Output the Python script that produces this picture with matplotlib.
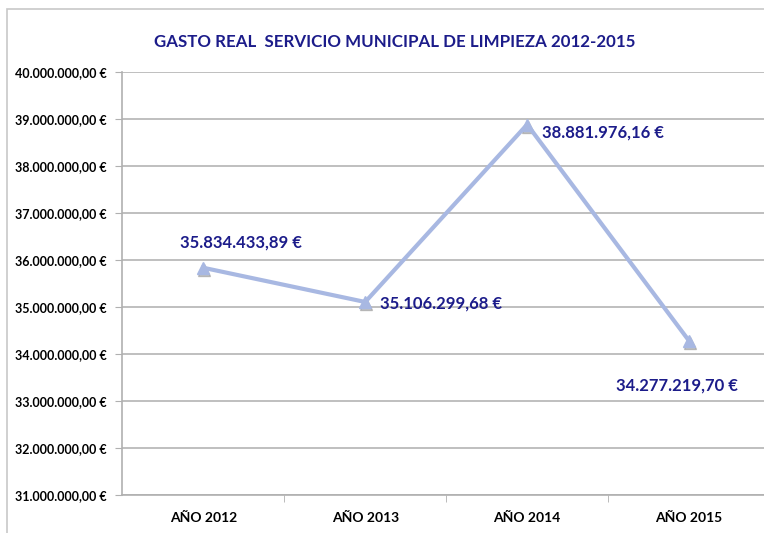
import matplotlib
matplotlib.use('Agg')
import matplotlib.pyplot as plt
from matplotlib.patches import Rectangle
from matplotlib.ticker import FuncFormatter

plt.rcParams['font.family'] = ['Lato', 'DejaVu Sans']

years = ['AÑO 2012', 'AÑO 2013', 'AÑO 2014', 'AÑO 2015']
gasto = [35834433.89, 35106299.68, 38881976.16, 34277219.70]
etiquetas = ['35.834.433,89 €', '35.106.299,68 €', '38.881.976,16 €', '34.277.219,70 €']

navy = '#1c1c8a'
linea = '#a8b8e2'


def euro(v, pos):
    s = '{:,.2f}'.format(v).replace(',', 'X').replace('.', ',').replace('X', '.')
    return s + ' €'


fig = plt.figure(figsize=(7.64, 5.33), dpi=100)
ax = fig.add_axes([0.160, 0.0713, 0.848, 0.7937])

# marco del grafico
fig.patches.append(Rectangle((0.009, -0.05), 1.2, 1.033, transform=fig.transFigure,
                             fill=False, edgecolor='#c8c8c8', linewidth=1.2))

x = list(range(len(years)))
ax.plot(x, gasto, color=linea, linewidth=3, zorder=3)
# sombra de los marcadores
ax.plot(x, gasto, linestyle='none', marker='^', markersize=9, color='#9a9a9a',
        alpha=0.6, zorder=2, transform=ax.transData +
        matplotlib.transforms.ScaledTranslation(1 / 100, -2 / 100, fig.dpi_scale_trans))
ax.plot(x, gasto, linestyle='none', marker='^', markersize=9, color=linea, zorder=4)

# etiquetas de datos
offsets = [(27, 18, 'center'), (11, -1, 'left'), (11, -6, 'left'), (-9, -32, 'center')]
for i, (dx, dy, ha) in enumerate(offsets):
    ax.annotate(etiquetas[i], (x[i], gasto[i]), xytext=(dx, dy), textcoords='offset points',
                ha=ha, va='center', fontsize=12, fontweight='bold', color=navy)

ax.set_xlim(-0.5, 3.5)
ax.set_ylim(31000000, 40000000)
ax.set_yticks(range(31000000, 40000001, 1000000))
ax.yaxis.set_major_formatter(FuncFormatter(euro))
ax.set_xticks(x)
ax.set_xticklabels(years)
ax.set_xticks([0.5, 1.5, 2.5], minor=True)
ax.tick_params(axis='x', which='major', length=0, pad=12)
ax.tick_params(axis='x', which='minor', length=5, color='#b0b0b0')
ax.tick_params(axis='y', length=5, color='#b0b0b0', pad=6)
for lab in ax.get_xticklabels():
    lab.set_fontsize(10)
    lab.set_fontweight('bold')
for lab in ax.get_yticklabels():
    lab.set_fontsize(9)
    lab.set_fontweight('bold')

ax.grid(axis='y', color='#b4b4b4', linewidth=1.2)
ax.set_axisbelow(True)
for s in ['top', 'right']:
    ax.spines[s].set_visible(False)
for s in ['left', 'bottom']:
    ax.spines[s].set_color('#b0b0b0')
    ax.spines[s].set_linewidth(1.2)

fig.text(0.517, 0.921, 'GASTO REAL  SERVICIO MUNICIPAL DE LIMPIEZA 2012-2015',
         ha='center', va='center', fontsize=12.2, fontweight='bold', color=navy)

fig.savefig('out.png', dpi=100, facecolor='white')
